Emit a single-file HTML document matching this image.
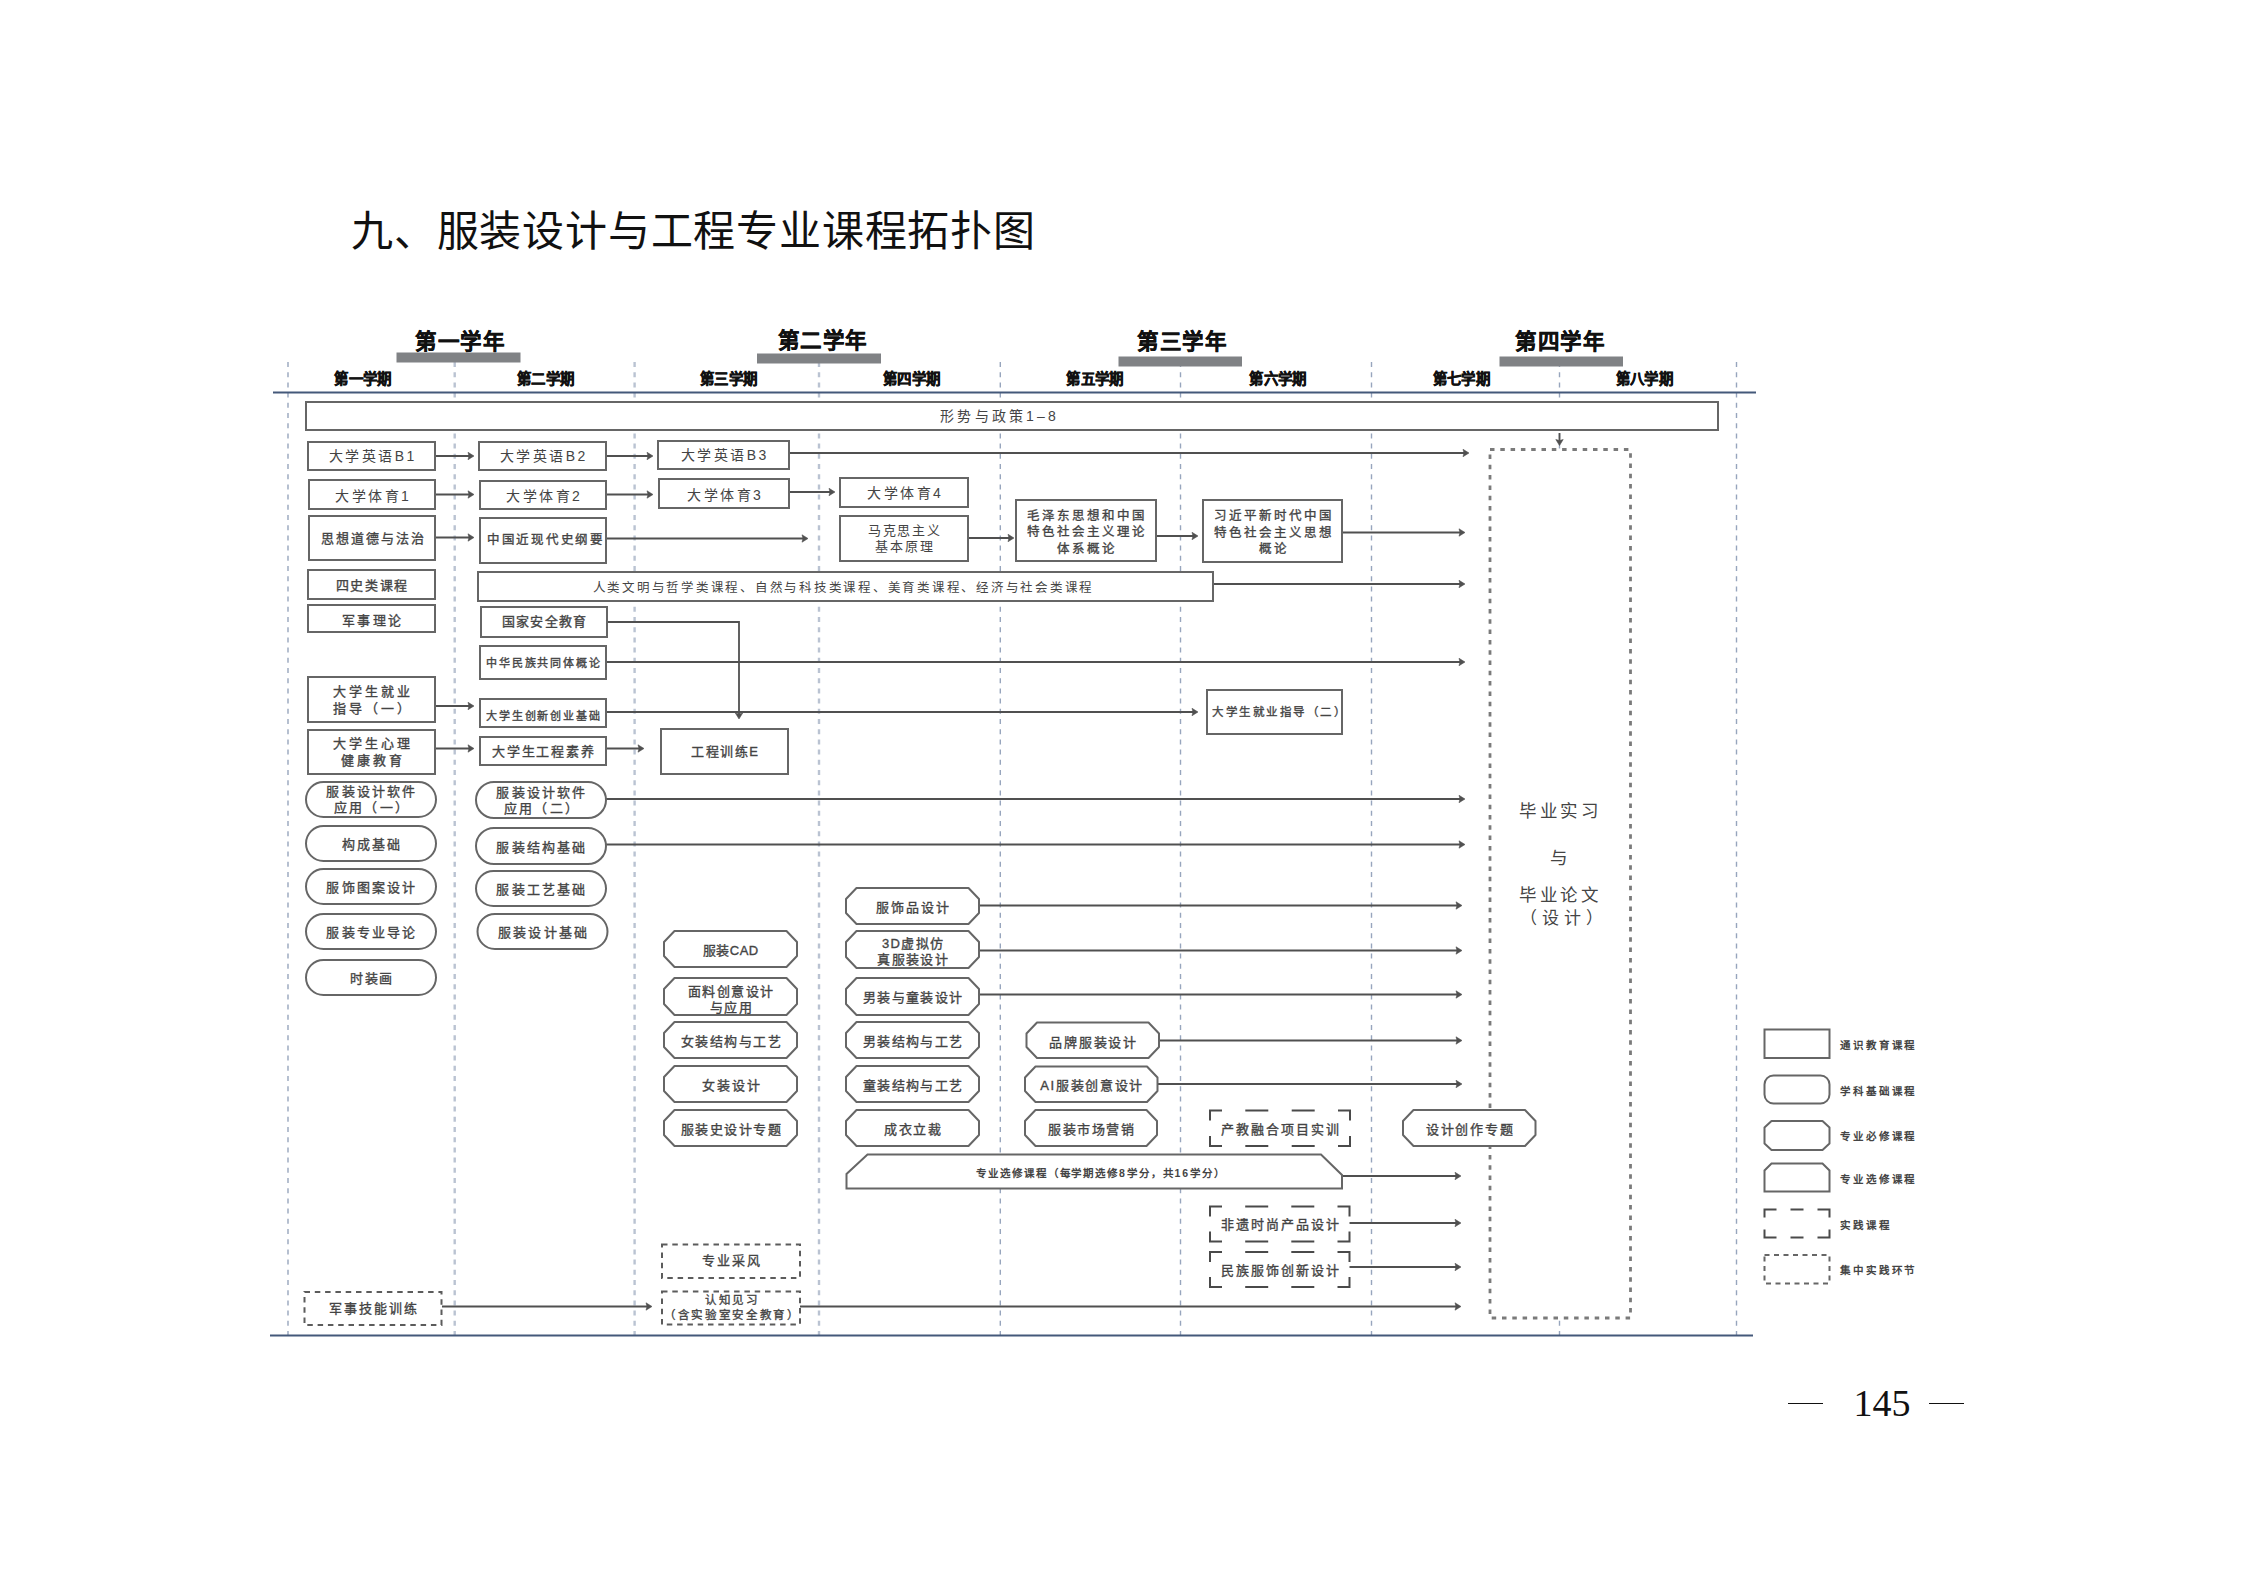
<!DOCTYPE html>
<html lang="zh-CN">
<head>
<meta charset="utf-8">
<title>服装设计与工程专业课程拓扑图</title>
<style>
html,body{margin:0;padding:0;background:#fff;}
body{width:2245px;height:1587px;position:relative;overflow:hidden;font-family:"Liberation Serif",serif;}
.t{position:absolute;display:flex;align-items:center;justify-content:center;text-align:center;white-space:nowrap;box-sizing:border-box;font-family:"Liberation Serif",serif;}
</style>
</head>
<body>
<svg width="2245" height="1587" viewBox="0 0 2245 1587" style="position:absolute;left:0;top:0"><line x1="288" y1="362" x2="288" y2="1340" stroke="#97a5bd" stroke-width="1.4" stroke-dasharray="5 5.2"/>
<line x1="1000.3" y1="362" x2="1000.3" y2="1340" stroke="#97a5bd" stroke-width="1.4" stroke-dasharray="5 5.2"/>
<line x1="1180.5" y1="362" x2="1180.5" y2="1340" stroke="#97a5bd" stroke-width="1.4" stroke-dasharray="5 5.2"/>
<line x1="1371.5" y1="362" x2="1371.5" y2="1340" stroke="#97a5bd" stroke-width="1.4" stroke-dasharray="5 5.2"/>
<line x1="1559.5" y1="362" x2="1559.5" y2="1340" stroke="#97a5bd" stroke-width="1.4" stroke-dasharray="5 5.2"/>
<line x1="1736.5" y1="362" x2="1736.5" y2="1340" stroke="#97a5bd" stroke-width="1.4" stroke-dasharray="5 5.2"/>
<line x1="454.7" y1="362" x2="454.7" y2="1340" stroke="#bac3d2" stroke-width="2.4" stroke-dasharray="5 5.2"/>
<line x1="634.6" y1="362" x2="634.6" y2="1340" stroke="#bac3d2" stroke-width="2.4" stroke-dasharray="5 5.2"/>
<line x1="819" y1="362" x2="819" y2="1340" stroke="#bac3d2" stroke-width="2.4" stroke-dasharray="5 5.2"/>
<line x1="273" y1="392.5" x2="1756" y2="392.5" stroke="#44597a" stroke-width="2"/>
<line x1="270" y1="1335.5" x2="1753" y2="1335.5" stroke="#44597a" stroke-width="2"/>
<rect x="396.5" y="352.5" width="124.0" height="10.0" fill="#808285"/>
<rect x="757" y="353.5" width="124" height="10.0" fill="#808285"/>
<rect x="1118.5" y="356.5" width="123.5" height="10.0" fill="#808285"/>
<rect x="1499.5" y="356.5" width="123.5" height="10.0" fill="#808285"/>
<line x1="435" y1="456" x2="470" y2="456" stroke="#505050" stroke-width="1.8"/>
<polygon points="474,456 468,452.3 469,456 468,459.7" fill="#505050" stroke="#505050" stroke-width="0.6" stroke-linejoin="round"/>
<line x1="606" y1="456" x2="649" y2="456" stroke="#505050" stroke-width="1.8"/>
<polygon points="653,456 647,452.3 648,456 647,459.7" fill="#505050" stroke="#505050" stroke-width="0.6" stroke-linejoin="round"/>
<line x1="789" y1="453" x2="1465" y2="453" stroke="#505050" stroke-width="1.8"/>
<polygon points="1469,453 1463,449.3 1464,453 1463,456.7" fill="#505050" stroke="#505050" stroke-width="0.6" stroke-linejoin="round"/>
<line x1="435" y1="494.5" x2="470" y2="494.5" stroke="#505050" stroke-width="1.8"/>
<polygon points="474,494.5 468,490.8 469,494.5 468,498.2" fill="#505050" stroke="#505050" stroke-width="0.6" stroke-linejoin="round"/>
<line x1="606" y1="494.5" x2="649" y2="494.5" stroke="#505050" stroke-width="1.8"/>
<polygon points="653,494.5 647,490.8 648,494.5 647,498.2" fill="#505050" stroke="#505050" stroke-width="0.6" stroke-linejoin="round"/>
<line x1="789" y1="492" x2="831" y2="492" stroke="#505050" stroke-width="1.8"/>
<polygon points="835,492 829,488.3 830,492 829,495.7" fill="#505050" stroke="#505050" stroke-width="0.6" stroke-linejoin="round"/>
<line x1="435" y1="537.5" x2="470" y2="537.5" stroke="#505050" stroke-width="1.8"/>
<polygon points="474,537.5 468,533.8 469,537.5 468,541.2" fill="#505050" stroke="#505050" stroke-width="0.6" stroke-linejoin="round"/>
<line x1="606" y1="538.5" x2="804" y2="538.5" stroke="#505050" stroke-width="1.8"/>
<polygon points="808,538.5 802,534.8 803,538.5 802,542.2" fill="#505050" stroke="#505050" stroke-width="0.6" stroke-linejoin="round"/>
<line x1="968" y1="538" x2="1010" y2="538" stroke="#505050" stroke-width="1.8"/>
<polygon points="1014,538 1008,534.3 1009,538 1008,541.7" fill="#505050" stroke="#505050" stroke-width="0.6" stroke-linejoin="round"/>
<line x1="1156" y1="536" x2="1194" y2="536" stroke="#505050" stroke-width="1.8"/>
<polygon points="1198,536 1192,532.3 1193,536 1192,539.7" fill="#505050" stroke="#505050" stroke-width="0.6" stroke-linejoin="round"/>
<line x1="1342" y1="532.5" x2="1461" y2="532.5" stroke="#505050" stroke-width="1.8"/>
<polygon points="1465,532.5 1459,528.8 1460,532.5 1459,536.2" fill="#505050" stroke="#505050" stroke-width="0.6" stroke-linejoin="round"/>
<line x1="1213" y1="584" x2="1461" y2="584" stroke="#505050" stroke-width="1.8"/>
<polygon points="1465,584 1459,580.3 1460,584 1459,587.7" fill="#505050" stroke="#505050" stroke-width="0.6" stroke-linejoin="round"/>
<line x1="607" y1="622" x2="739" y2="622" stroke="#505050" stroke-width="1.8"/>
<line x1="739" y1="621" x2="739" y2="715" stroke="#505050" stroke-width="1.8"/>
<polygon points="739,719 735.3,713 739,714 742.7,713" fill="#505050" stroke="#505050" stroke-width="0.6" stroke-linejoin="round"/>
<line x1="606" y1="662" x2="1461" y2="662" stroke="#505050" stroke-width="1.8"/>
<polygon points="1465,662 1459,658.3 1460,662 1459,665.7" fill="#505050" stroke="#505050" stroke-width="0.6" stroke-linejoin="round"/>
<line x1="435" y1="706" x2="470" y2="706" stroke="#505050" stroke-width="1.8"/>
<polygon points="474,706 468,702.3 469,706 468,709.7" fill="#505050" stroke="#505050" stroke-width="0.6" stroke-linejoin="round"/>
<line x1="606" y1="712" x2="1194" y2="712" stroke="#505050" stroke-width="1.8"/>
<polygon points="1198,712 1192,708.3 1193,712 1192,715.7" fill="#505050" stroke="#505050" stroke-width="0.6" stroke-linejoin="round"/>
<line x1="435" y1="748.5" x2="470" y2="748.5" stroke="#505050" stroke-width="1.8"/>
<polygon points="474,748.5 468,744.8 469,748.5 468,752.2" fill="#505050" stroke="#505050" stroke-width="0.6" stroke-linejoin="round"/>
<line x1="606" y1="748.5" x2="640" y2="748.5" stroke="#505050" stroke-width="1.8"/>
<polygon points="644,748.5 638,744.8 639,748.5 638,752.2" fill="#505050" stroke="#505050" stroke-width="0.6" stroke-linejoin="round"/>
<line x1="606" y1="799" x2="1461" y2="799" stroke="#505050" stroke-width="1.8"/>
<polygon points="1465,799 1459,795.3 1460,799 1459,802.7" fill="#505050" stroke="#505050" stroke-width="0.6" stroke-linejoin="round"/>
<line x1="606" y1="844.5" x2="1461" y2="844.5" stroke="#505050" stroke-width="1.8"/>
<polygon points="1465,844.5 1459,840.8 1460,844.5 1459,848.2" fill="#505050" stroke="#505050" stroke-width="0.6" stroke-linejoin="round"/>
<line x1="979" y1="905.5" x2="1458" y2="905.5" stroke="#505050" stroke-width="1.8"/>
<polygon points="1462,905.5 1456,901.8 1457,905.5 1456,909.2" fill="#505050" stroke="#505050" stroke-width="0.6" stroke-linejoin="round"/>
<line x1="979" y1="950.5" x2="1458" y2="950.5" stroke="#505050" stroke-width="1.8"/>
<polygon points="1462,950.5 1456,946.8 1457,950.5 1456,954.2" fill="#505050" stroke="#505050" stroke-width="0.6" stroke-linejoin="round"/>
<line x1="979" y1="994.5" x2="1458" y2="994.5" stroke="#505050" stroke-width="1.8"/>
<polygon points="1462,994.5 1456,990.8 1457,994.5 1456,998.2" fill="#505050" stroke="#505050" stroke-width="0.6" stroke-linejoin="round"/>
<line x1="1158" y1="1040.5" x2="1458" y2="1040.5" stroke="#505050" stroke-width="1.8"/>
<polygon points="1462,1040.5 1456,1036.8 1457,1040.5 1456,1044.2" fill="#505050" stroke="#505050" stroke-width="0.6" stroke-linejoin="round"/>
<line x1="1157" y1="1084" x2="1458" y2="1084" stroke="#505050" stroke-width="1.8"/>
<polygon points="1462,1084 1456,1080.3 1457,1084 1456,1087.7" fill="#505050" stroke="#505050" stroke-width="0.6" stroke-linejoin="round"/>
<line x1="1342" y1="1176" x2="1457" y2="1176" stroke="#505050" stroke-width="1.8"/>
<polygon points="1461,1176 1455,1172.3 1456,1176 1455,1179.7" fill="#505050" stroke="#505050" stroke-width="0.6" stroke-linejoin="round"/>
<line x1="1349" y1="1223" x2="1457" y2="1223" stroke="#505050" stroke-width="1.8"/>
<polygon points="1461,1223 1455,1219.3 1456,1223 1455,1226.7" fill="#505050" stroke="#505050" stroke-width="0.6" stroke-linejoin="round"/>
<line x1="1349" y1="1267" x2="1457" y2="1267" stroke="#505050" stroke-width="1.8"/>
<polygon points="1461,1267 1455,1263.3 1456,1267 1455,1270.7" fill="#505050" stroke="#505050" stroke-width="0.6" stroke-linejoin="round"/>
<line x1="442" y1="1306.5" x2="648" y2="1306.5" stroke="#505050" stroke-width="1.8"/>
<polygon points="652,1306.5 646,1302.8 647,1306.5 646,1310.2" fill="#505050" stroke="#505050" stroke-width="0.6" stroke-linejoin="round"/>
<line x1="800" y1="1306.5" x2="1457" y2="1306.5" stroke="#505050" stroke-width="1.8"/>
<polygon points="1461,1306.5 1455,1302.8 1456,1306.5 1455,1310.2" fill="#505050" stroke="#505050" stroke-width="0.6" stroke-linejoin="round"/>
<line x1="1559.5" y1="433" x2="1559.5" y2="441.5" stroke="#505050" stroke-width="1.8"/>
<polygon points="1559.5,445.5 1555.8,439.5 1559.5,440.5 1563.2,439.5" fill="#505050" stroke="#505050" stroke-width="0.6" stroke-linejoin="round"/>
<rect x="1490" y="449.5" width="140.5" height="868.5" fill="#fff" stroke="#7a7a7a" stroke-width="2.8" stroke-dasharray="4.5 5.8"/>
<rect x="306" y="402" width="1412" height="28" fill="#fff" stroke="#666" stroke-width="2"/>
<rect x="308" y="442" width="127" height="28" fill="#fff" stroke="#666" stroke-width="2"/>
<rect x="479" y="442" width="127" height="28" fill="#fff" stroke="#666" stroke-width="2"/>
<rect x="658" y="441" width="131" height="28" fill="#fff" stroke="#666" stroke-width="2"/>
<rect x="309" y="480" width="126" height="29" fill="#fff" stroke="#666" stroke-width="2"/>
<rect x="480" y="481" width="126" height="28" fill="#fff" stroke="#666" stroke-width="2"/>
<rect x="659" y="479" width="130" height="29" fill="#fff" stroke="#666" stroke-width="2"/>
<rect x="840" y="478" width="128" height="29" fill="#fff" stroke="#666" stroke-width="2"/>
<rect x="309" y="516" width="126" height="44" fill="#fff" stroke="#666" stroke-width="2"/>
<rect x="480" y="518" width="126" height="45" fill="#fff" stroke="#666" stroke-width="2"/>
<rect x="840" y="516" width="128" height="45" fill="#fff" stroke="#666" stroke-width="2"/>
<rect x="1016" y="500" width="140" height="61" fill="#fff" stroke="#666" stroke-width="2"/>
<rect x="1203" y="500" width="139" height="62" fill="#fff" stroke="#666" stroke-width="2"/>
<rect x="308" y="570" width="127" height="29" fill="#fff" stroke="#666" stroke-width="2"/>
<rect x="478" y="572" width="735" height="29" fill="#fff" stroke="#666" stroke-width="2"/>
<rect x="308" y="605" width="127" height="27" fill="#fff" stroke="#666" stroke-width="2"/>
<rect x="481" y="607" width="126" height="30" fill="#fff" stroke="#666" stroke-width="2"/>
<rect x="480" y="646" width="126" height="33" fill="#fff" stroke="#666" stroke-width="2"/>
<rect x="308" y="677" width="127" height="45" fill="#fff" stroke="#666" stroke-width="2"/>
<rect x="480" y="699" width="126" height="28" fill="#fff" stroke="#666" stroke-width="2"/>
<rect x="1207" y="690" width="135" height="44" fill="#fff" stroke="#666" stroke-width="2"/>
<rect x="308" y="730" width="127" height="44" fill="#fff" stroke="#666" stroke-width="2"/>
<rect x="480" y="737" width="126" height="28" fill="#fff" stroke="#666" stroke-width="2"/>
<rect x="661" y="729" width="127" height="45" fill="#fff" stroke="#666" stroke-width="2"/>
<rect x="306" y="782" width="130" height="35" rx="17.5" ry="17.5" fill="#fff" stroke="#666" stroke-width="2"/>
<rect x="476" y="782" width="130" height="36" rx="18.0" ry="18.0" fill="#fff" stroke="#666" stroke-width="2"/>
<rect x="306" y="826" width="130" height="35" rx="17.5" ry="17.5" fill="#fff" stroke="#666" stroke-width="2"/>
<rect x="476" y="828" width="130" height="36" rx="18.0" ry="18.0" fill="#fff" stroke="#666" stroke-width="2"/>
<rect x="306" y="869" width="130" height="35" rx="17.5" ry="17.5" fill="#fff" stroke="#666" stroke-width="2"/>
<rect x="476" y="871" width="130" height="35" rx="17.5" ry="17.5" fill="#fff" stroke="#666" stroke-width="2"/>
<rect x="306" y="914" width="130" height="35" rx="17.5" ry="17.5" fill="#fff" stroke="#666" stroke-width="2"/>
<rect x="477.5" y="914" width="130.0" height="35" rx="17.5" ry="17.5" fill="#fff" stroke="#666" stroke-width="2"/>
<rect x="306" y="960" width="130" height="35" rx="17.5" ry="17.5" fill="#fff" stroke="#666" stroke-width="2"/>
<polygon points="674.5,931.0 786.5,931.0 797.0,942.0 797.0,956.0 786.5,967.0 674.5,967.0 664.0,956.0 664.0,942.0" fill="#fff" stroke="#666" stroke-width="2" stroke-linejoin="round"/>
<polygon points="674.5,978.0 786.5,978.0 797.0,989.0 797.0,1004.0 786.5,1015.0 674.5,1015.0 664.0,1004.0 664.0,989.0" fill="#fff" stroke="#666" stroke-width="2" stroke-linejoin="round"/>
<polygon points="674.5,1022.0 786.5,1022.0 797.0,1033.0 797.0,1047.0 786.5,1058.0 674.5,1058.0 664.0,1047.0 664.0,1033.0" fill="#fff" stroke="#666" stroke-width="2" stroke-linejoin="round"/>
<polygon points="674.5,1066.0 786.5,1066.0 797.0,1077.0 797.0,1091.0 786.5,1102.0 674.5,1102.0 664.0,1091.0 664.0,1077.0" fill="#fff" stroke="#666" stroke-width="2" stroke-linejoin="round"/>
<polygon points="674.5,1110.0 786.5,1110.0 797.0,1121.0 797.0,1135.0 786.5,1146.0 674.5,1146.0 664.0,1135.0 664.0,1121.0" fill="#fff" stroke="#666" stroke-width="2" stroke-linejoin="round"/>
<polygon points="856.5,888.0 968.5,888.0 979.0,899.0 979.0,913.0 968.5,924.0 856.5,924.0 846.0,913.0 846.0,899.0" fill="#fff" stroke="#666" stroke-width="2" stroke-linejoin="round"/>
<polygon points="856.5,931.0 968.5,931.0 979.0,942.0 979.0,957.0 968.5,968.0 856.5,968.0 846.0,957.0 846.0,942.0" fill="#fff" stroke="#666" stroke-width="2" stroke-linejoin="round"/>
<polygon points="856.5,978.0 968.5,978.0 979.0,989.0 979.0,1004.0 968.5,1015.0 856.5,1015.0 846.0,1004.0 846.0,989.0" fill="#fff" stroke="#666" stroke-width="2" stroke-linejoin="round"/>
<polygon points="856.5,1022.0 968.5,1022.0 979.0,1033.0 979.0,1047.0 968.5,1058.0 856.5,1058.0 846.0,1047.0 846.0,1033.0" fill="#fff" stroke="#666" stroke-width="2" stroke-linejoin="round"/>
<polygon points="856.5,1066.0 968.5,1066.0 979.0,1077.0 979.0,1091.0 968.5,1102.0 856.5,1102.0 846.0,1091.0 846.0,1077.0" fill="#fff" stroke="#666" stroke-width="2" stroke-linejoin="round"/>
<polygon points="856.5,1110.0 968.5,1110.0 979.0,1121.0 979.0,1135.0 968.5,1146.0 856.5,1146.0 846.0,1135.0 846.0,1121.0" fill="#fff" stroke="#666" stroke-width="2" stroke-linejoin="round"/>
<polygon points="1037.0,1022.5 1148.5,1022.5 1159.0,1033.5 1159.0,1047.0 1148.5,1058.0 1037.0,1058.0 1026.5,1047.0 1026.5,1033.5" fill="#fff" stroke="#666" stroke-width="2" stroke-linejoin="round"/>
<polygon points="1035.5,1066.5 1147.0,1066.5 1157.5,1077.5 1157.5,1091.0 1147.0,1102.0 1035.5,1102.0 1025.0,1091.0 1025.0,1077.5" fill="#fff" stroke="#666" stroke-width="2" stroke-linejoin="round"/>
<polygon points="1035.5,1110.0 1146.5,1110.0 1157.0,1121.0 1157.0,1135.0 1146.5,1146.0 1035.5,1146.0 1025.0,1135.0 1025.0,1121.0" fill="#fff" stroke="#666" stroke-width="2" stroke-linejoin="round"/>
<polygon points="1413.5,1110.0 1525.0,1110.0 1535.5,1121.0 1535.5,1135.0 1525.0,1146.0 1413.5,1146.0 1403.0,1135.0 1403.0,1121.0" fill="#fff" stroke="#666" stroke-width="2" stroke-linejoin="round"/>
<polygon points="867.5,1154.5 1321.0,1154.5 1342.0,1175.0 1342.0,1188.5 846.5,1188.5 846.5,1174.0" fill="#fff" stroke="#666" stroke-width="2" stroke-linejoin="miter"/>
<rect x="1210" y="1110.5" width="140" height="35.5" fill="#fff" stroke="none"/>
<path d="M1210,1120.5 V1110.5 H1222 M1338,1110.5 H1350 V1120.5 M1210,1136 V1146 H1222 M1338,1146 H1350 V1136 M1245.3,1110.5 H1268.3 M1245.3,1146 H1268.3 M1291.7,1110.5 H1314.7 M1291.7,1146 H1314.7" fill="none" stroke="#4a4a4a" stroke-width="2"/>
<rect x="1210" y="1206.5" width="139.5" height="35.0" fill="#fff" stroke="none"/>
<path d="M1210,1216.5 V1206.5 H1222 M1337.5,1206.5 H1349.5 V1216.5 M1210,1231.5 V1241.5 H1222 M1337.5,1241.5 H1349.5 V1231.5 M1245.2,1206.5 H1268.2 M1245.2,1241.5 H1268.2 M1291.3,1206.5 H1314.3 M1291.3,1241.5 H1314.3" fill="none" stroke="#4a4a4a" stroke-width="2"/>
<rect x="1210" y="1252" width="139.5" height="35" fill="#fff" stroke="none"/>
<path d="M1210,1262 V1252 H1222 M1337.5,1252 H1349.5 V1262 M1210,1277 V1287 H1222 M1337.5,1287 H1349.5 V1277 M1245.2,1252 H1268.2 M1245.2,1287 H1268.2 M1291.3,1252 H1314.3 M1291.3,1287 H1314.3" fill="none" stroke="#4a4a4a" stroke-width="2"/>
<rect x="304.5" y="1292" width="137.0" height="33" fill="#fff" stroke="#5c5c5c" stroke-width="2" stroke-dasharray="5.5 4.8"/>
<rect x="662" y="1244.5" width="138" height="33.5" fill="#fff" stroke="#5c5c5c" stroke-width="2" stroke-dasharray="5.5 4.8"/>
<rect x="662" y="1291.5" width="138" height="33.0" fill="#fff" stroke="#5c5c5c" stroke-width="2" stroke-dasharray="5.5 4.8"/>
<rect x="1764.5" y="1029.5" width="65.0" height="28.5" fill="#fff" stroke="#666" stroke-width="2"/>
<rect x="1764.5" y="1075.5" width="65.0" height="28.0" rx="9" ry="9" fill="#fff" stroke="#666" stroke-width="2"/>
<polygon points="1771.5,1121.0 1822.5,1121.0 1829.5,1127.5 1829.5,1143.5 1822.5,1150.0 1771.5,1150.0 1764.5,1143.5 1764.5,1127.5" fill="#fff" stroke="#666" stroke-width="2" stroke-linejoin="round"/>
<polygon points="1771.5,1163.5 1822.5,1163.5 1829.5,1170.5 1829.5,1191.5 1764.5,1191.5 1764.5,1170.5" fill="#fff" stroke="#666" stroke-width="2" stroke-linejoin="miter"/>
<path d="M1764.5,1217.5 V1209.5 H1776.5 M1790.5,1209.5 H1803.5 M1817.5,1209.5 H1829.5 V1217.5 M1764.5,1229.5 V1237.5 H1776.5 M1790.5,1237.5 H1803.5 M1817.5,1237.5 H1829.5 V1229.5" fill="none" stroke="#4a4a4a" stroke-width="2"/>
<rect x="1764.5" y="1255" width="65.0" height="28.5" fill="#fff" stroke="#666" stroke-width="2" stroke-dasharray="5 4.5"/></svg>
<div class="t" style="left:292.0px;top:402.0px;width:1412.0px;height:28.0px;font-size:14px;letter-spacing:3.2px;padding-left:3.2px;line-height:17px;font-weight:500;color:#444;font-family:'Liberation Sans', sans-serif;-webkit-text-stroke:0px #444;">形势与政策1–8</div>
<div class="t" style="left:308.0px;top:442.0px;width:127.0px;height:28.0px;font-size:14px;letter-spacing:2.5px;padding-left:2.5px;line-height:17px;font-weight:500;color:#444;font-family:'Liberation Sans', sans-serif;-webkit-text-stroke:0px #444;">大学英语B1</div>
<div class="t" style="left:479.0px;top:442.0px;width:127.0px;height:28.0px;font-size:14px;letter-spacing:2.5px;padding-left:2.5px;line-height:17px;font-weight:500;color:#444;font-family:'Liberation Sans', sans-serif;-webkit-text-stroke:0px #444;">大学英语B2</div>
<div class="t" style="left:658.0px;top:441.0px;width:131.0px;height:28.0px;font-size:14px;letter-spacing:2.5px;padding-left:2.5px;line-height:17px;font-weight:500;color:#444;font-family:'Liberation Sans', sans-serif;-webkit-text-stroke:0px #444;">大学英语B3</div>
<div class="t" style="left:309.0px;top:481.5px;width:126.0px;height:29.0px;font-size:14px;letter-spacing:2.5px;padding-left:2.5px;line-height:17px;font-weight:500;color:#444;font-family:'Liberation Sans', sans-serif;-webkit-text-stroke:0px #444;">大学体育1</div>
<div class="t" style="left:480.0px;top:482.5px;width:126.0px;height:28.0px;font-size:14px;letter-spacing:2.5px;padding-left:2.5px;line-height:17px;font-weight:500;color:#444;font-family:'Liberation Sans', sans-serif;-webkit-text-stroke:0px #444;">大学体育2</div>
<div class="t" style="left:659.0px;top:480.5px;width:130.0px;height:29.0px;font-size:14px;letter-spacing:2.5px;padding-left:2.5px;line-height:17px;font-weight:500;color:#444;font-family:'Liberation Sans', sans-serif;-webkit-text-stroke:0px #444;">大学体育3</div>
<div class="t" style="left:840.0px;top:479.3px;width:128.0px;height:29.0px;font-size:14px;letter-spacing:2.5px;padding-left:2.5px;line-height:17px;font-weight:500;color:#444;font-family:'Liberation Sans', sans-serif;-webkit-text-stroke:0px #444;">大学体育4</div>
<div class="t" style="left:309.0px;top:517.0px;width:126.0px;height:44.0px;font-size:13px;letter-spacing:2.0px;padding-left:2.0px;line-height:16px;font-weight:500;color:#444;font-family:'Liberation Sans', sans-serif;-webkit-text-stroke:0.35px #444;">思想道德与法治</div>
<div class="t" style="left:482.0px;top:518.0px;width:126.0px;height:45.0px;font-size:12.5px;letter-spacing:1.7px;padding-left:1.7px;line-height:15.5px;font-weight:500;color:#444;font-family:'Liberation Sans', sans-serif;-webkit-text-stroke:0.35px #444;">中国近现代史纲要</div>
<div class="t" style="left:840.0px;top:516.0px;width:128.0px;height:45.0px;font-size:13px;letter-spacing:1.8px;padding-left:1.8px;line-height:16px;font-weight:500;color:#444;font-family:'Liberation Sans', sans-serif;-webkit-text-stroke:0px #444;">马克思主义<br>基本原理</div>
<div class="t" style="left:1016.0px;top:502.0px;width:140.0px;height:61.0px;font-size:12.5px;letter-spacing:2px;padding-left:2px;line-height:16.6px;font-weight:500;color:#444;font-family:'Liberation Sans', sans-serif;-webkit-text-stroke:0.35px #444;">毛泽东思想和中国<br>特色社会主义理论<br>体系概论</div>
<div class="t" style="left:1203.0px;top:502.0px;width:139.0px;height:62.0px;font-size:12.5px;letter-spacing:2px;padding-left:2px;line-height:16.6px;font-weight:500;color:#444;font-family:'Liberation Sans', sans-serif;-webkit-text-stroke:0.35px #444;">习近平新时代中国<br>特色社会主义思想<br>概论</div>
<div class="t" style="left:308.0px;top:571.0px;width:127.0px;height:29.0px;font-size:13px;letter-spacing:1.6px;padding-left:1.6px;line-height:16px;font-weight:500;color:#444;font-family:'Liberation Sans', sans-serif;-webkit-text-stroke:0.35px #444;">四史类课程</div>
<div class="t" style="left:475.0px;top:574.5px;width:735.0px;height:29.0px;font-size:12.5px;letter-spacing:1.75px;padding-left:1.75px;line-height:15.5px;font-weight:500;color:#444;font-family:'Liberation Sans', sans-serif;-webkit-text-stroke:0px #444;">人类文明与哲学类课程、自然与科技类课程、美育类课程、经济与社会类课程</div>
<div class="t" style="left:308.0px;top:607.5px;width:127.0px;height:27.0px;font-size:13px;letter-spacing:2.3px;padding-left:2.3px;line-height:16px;font-weight:500;color:#444;font-family:'Liberation Sans', sans-serif;-webkit-text-stroke:0.35px #444;">军事理论</div>
<div class="t" style="left:481.0px;top:607.0px;width:126.0px;height:30.0px;font-size:13px;letter-spacing:1.3px;padding-left:1.3px;line-height:16px;font-weight:500;color:#444;font-family:'Liberation Sans', sans-serif;-webkit-text-stroke:0.35px #444;">国家安全教育</div>
<div class="t" style="left:480.0px;top:646.0px;width:126.0px;height:33.0px;font-size:11px;letter-spacing:1.9px;padding-left:1.9px;line-height:14px;font-weight:500;color:#444;font-family:'Liberation Sans', sans-serif;-webkit-text-stroke:0.35px #444;">中华民族共同体概论</div>
<div class="t" style="left:308.0px;top:677.0px;width:127.0px;height:45.0px;font-size:13px;letter-spacing:2.8px;padding-left:2.8px;line-height:17px;font-weight:500;color:#444;font-family:'Liberation Sans', sans-serif;-webkit-text-stroke:0.35px #444;">大学生就业<br>指导（一）</div>
<div class="t" style="left:480.0px;top:701.5px;width:126.0px;height:28.0px;font-size:11px;letter-spacing:1.95px;padding-left:1.95px;line-height:14px;font-weight:500;color:#444;font-family:'Liberation Sans', sans-serif;-webkit-text-stroke:0.35px #444;">大学生创新创业基础</div>
<div class="t" style="left:1211.0px;top:690.0px;width:135.0px;height:44.0px;font-size:11.5px;letter-spacing:2.5px;padding-left:2.5px;line-height:14.5px;font-weight:500;color:#444;font-family:'Liberation Sans', sans-serif;-webkit-text-stroke:0.35px #444;">大学生就业指导（二）</div>
<div class="t" style="left:308.0px;top:730.0px;width:127.0px;height:44.0px;font-size:13px;letter-spacing:2.8px;padding-left:2.8px;line-height:17px;font-weight:500;color:#444;font-family:'Liberation Sans', sans-serif;-webkit-text-stroke:0.35px #444;">大学生心理<br>健康教育</div>
<div class="t" style="left:480.0px;top:738.0px;width:126.0px;height:28.0px;font-size:13px;letter-spacing:1.9px;padding-left:1.9px;line-height:16px;font-weight:500;color:#444;font-family:'Liberation Sans', sans-serif;-webkit-text-stroke:0.35px #444;">大学生工程素养</div>
<div class="t" style="left:661.0px;top:729.0px;width:127.0px;height:45.0px;font-size:13px;letter-spacing:1.5px;padding-left:1.5px;line-height:16px;font-weight:500;color:#444;font-family:'Liberation Sans', sans-serif;-webkit-text-stroke:0.35px #444;">工程训练E</div>
<div class="t" style="left:306.0px;top:782.5px;width:130.0px;height:35.0px;font-size:13px;letter-spacing:2.2px;padding-left:2.2px;line-height:16px;font-weight:500;color:#444;font-family:'Liberation Sans', sans-serif;-webkit-text-stroke:0.35px #444;">服装设计软件<br>应用（一）</div>
<div class="t" style="left:476.0px;top:782.5px;width:130.0px;height:36.0px;font-size:13px;letter-spacing:2.2px;padding-left:2.2px;line-height:16px;font-weight:500;color:#444;font-family:'Liberation Sans', sans-serif;-webkit-text-stroke:0.35px #444;">服装设计软件<br>应用（二）</div>
<div class="t" style="left:306.0px;top:827.5px;width:130.0px;height:35.0px;font-size:13px;letter-spacing:2.2px;padding-left:2.2px;line-height:16px;font-weight:500;color:#444;font-family:'Liberation Sans', sans-serif;-webkit-text-stroke:0.35px #444;">构成基础</div>
<div class="t" style="left:476.0px;top:829.5px;width:130.0px;height:36.0px;font-size:13px;letter-spacing:2.2px;padding-left:2.2px;line-height:16px;font-weight:500;color:#444;font-family:'Liberation Sans', sans-serif;-webkit-text-stroke:0.35px #444;">服装结构基础</div>
<div class="t" style="left:306.0px;top:870.5px;width:130.0px;height:35.0px;font-size:13px;letter-spacing:2.2px;padding-left:2.2px;line-height:16px;font-weight:500;color:#444;font-family:'Liberation Sans', sans-serif;-webkit-text-stroke:0.35px #444;">服饰图案设计</div>
<div class="t" style="left:476.0px;top:872.5px;width:130.0px;height:35.0px;font-size:13px;letter-spacing:2.2px;padding-left:2.2px;line-height:16px;font-weight:500;color:#444;font-family:'Liberation Sans', sans-serif;-webkit-text-stroke:0.35px #444;">服装工艺基础</div>
<div class="t" style="left:306.0px;top:915.5px;width:130.0px;height:35.0px;font-size:13px;letter-spacing:2.2px;padding-left:2.2px;line-height:16px;font-weight:500;color:#444;font-family:'Liberation Sans', sans-serif;-webkit-text-stroke:0.35px #444;">服装专业导论</div>
<div class="t" style="left:477.5px;top:915.5px;width:130.0px;height:35.0px;font-size:13px;letter-spacing:2.2px;padding-left:2.2px;line-height:16px;font-weight:500;color:#444;font-family:'Liberation Sans', sans-serif;-webkit-text-stroke:0.35px #444;">服装设计基础</div>
<div class="t" style="left:306.0px;top:961.5px;width:130.0px;height:35.0px;font-size:13px;letter-spacing:1.5px;padding-left:1.5px;line-height:16px;font-weight:500;color:#444;font-family:'Liberation Sans', sans-serif;-webkit-text-stroke:0.35px #444;">时装画</div>
<div class="t" style="left:664.0px;top:932.8px;width:133.0px;height:36.0px;font-size:13px;letter-spacing:0.5px;padding-left:0.5px;line-height:16px;font-weight:500;color:#444;font-family:'Liberation Sans', sans-serif;-webkit-text-stroke:0.35px #444;">服装CAD</div>
<div class="t" style="left:664.0px;top:981.0px;width:133.0px;height:37.0px;font-size:13px;letter-spacing:1.5px;padding-left:1.5px;line-height:16px;font-weight:500;color:#444;font-family:'Liberation Sans', sans-serif;-webkit-text-stroke:0.35px #444;">面料创意设计<br>与应用</div>
<div class="t" style="left:664.0px;top:1023.8px;width:133.0px;height:36.0px;font-size:13px;letter-spacing:1.5px;padding-left:1.5px;line-height:16px;font-weight:500;color:#444;font-family:'Liberation Sans', sans-serif;-webkit-text-stroke:0.35px #444;">女装结构与工艺</div>
<div class="t" style="left:664.0px;top:1067.8px;width:133.0px;height:36.0px;font-size:13px;letter-spacing:2px;padding-left:2px;line-height:16px;font-weight:500;color:#444;font-family:'Liberation Sans', sans-serif;-webkit-text-stroke:0.35px #444;">女装设计</div>
<div class="t" style="left:664.0px;top:1111.8px;width:133.0px;height:36.0px;font-size:13px;letter-spacing:1.5px;padding-left:1.5px;line-height:16px;font-weight:500;color:#444;font-family:'Liberation Sans', sans-serif;-webkit-text-stroke:0.35px #444;">服装史设计专题</div>
<div class="t" style="left:846.0px;top:889.8px;width:133.0px;height:36.0px;font-size:13px;letter-spacing:1.8px;padding-left:1.8px;line-height:16px;font-weight:500;color:#444;font-family:'Liberation Sans', sans-serif;-webkit-text-stroke:0.35px #444;">服饰品设计</div>
<div class="t" style="left:846.0px;top:933.5px;width:133.0px;height:37.0px;font-size:13px;letter-spacing:1.3px;padding-left:1.3px;line-height:16px;font-weight:500;color:#444;font-family:'Liberation Sans', sans-serif;-webkit-text-stroke:0.35px #444;">3D虚拟仿<br>真服装设计</div>
<div class="t" style="left:846.0px;top:979.8px;width:133.0px;height:37.0px;font-size:13px;letter-spacing:1.4px;padding-left:1.4px;line-height:16px;font-weight:500;color:#444;font-family:'Liberation Sans', sans-serif;-webkit-text-stroke:0.35px #444;">男装与童装设计</div>
<div class="t" style="left:846.0px;top:1023.8px;width:133.0px;height:36.0px;font-size:13px;letter-spacing:1.4px;padding-left:1.4px;line-height:16px;font-weight:500;color:#444;font-family:'Liberation Sans', sans-serif;-webkit-text-stroke:0.35px #444;">男装结构与工艺</div>
<div class="t" style="left:846.0px;top:1067.8px;width:133.0px;height:36.0px;font-size:13px;letter-spacing:1.4px;padding-left:1.4px;line-height:16px;font-weight:500;color:#444;font-family:'Liberation Sans', sans-serif;-webkit-text-stroke:0.35px #444;">童装结构与工艺</div>
<div class="t" style="left:846.0px;top:1111.8px;width:133.0px;height:36.0px;font-size:13px;letter-spacing:1.8px;padding-left:1.8px;line-height:16px;font-weight:500;color:#444;font-family:'Liberation Sans', sans-serif;-webkit-text-stroke:0.35px #444;">成衣立裁</div>
<div class="t" style="left:1026.5px;top:1025.5px;width:132.5px;height:35.5px;font-size:13px;letter-spacing:1.8px;padding-left:1.8px;line-height:16px;font-weight:500;color:#444;font-family:'Liberation Sans', sans-serif;-webkit-text-stroke:0.35px #444;">品牌服装设计</div>
<div class="t" style="left:1025.0px;top:1068.5px;width:132.5px;height:35.5px;font-size:13px;letter-spacing:1.7px;padding-left:1.7px;line-height:16px;font-weight:500;color:#444;font-family:'Liberation Sans', sans-serif;-webkit-text-stroke:0.35px #444;">AI服装创意设计</div>
<div class="t" style="left:1025.0px;top:1111.8px;width:132.0px;height:36.0px;font-size:13px;letter-spacing:1.5px;padding-left:1.5px;line-height:16px;font-weight:500;color:#444;font-family:'Liberation Sans', sans-serif;-webkit-text-stroke:0.35px #444;">服装市场营销</div>
<div class="t" style="left:1403.0px;top:1112.3px;width:132.5px;height:36.0px;font-size:13px;letter-spacing:1.8px;padding-left:1.8px;line-height:16px;font-weight:500;color:#444;font-family:'Liberation Sans', sans-serif;-webkit-text-stroke:0.35px #444;">设计创作专题</div>
<div class="t" style="left:852.0px;top:1157.0px;width:496.0px;height:34.0px;font-size:10.5px;letter-spacing:1.9px;padding-left:1.9px;line-height:13.5px;font-weight:bold;color:#444;font-family:'Liberation Sans', sans-serif;-webkit-text-stroke:0px #444;">专业选修课程（每学期选修8学分，共16学分）</div>
<div class="t" style="left:1210.0px;top:1112.5px;width:140.0px;height:35.5px;font-size:13px;letter-spacing:2.0px;padding-left:2.0px;line-height:16px;font-weight:500;color:#444;font-family:'Liberation Sans', sans-serif;-webkit-text-stroke:0.35px #444;">产教融合项目实训</div>
<div class="t" style="left:1210.0px;top:1207.5px;width:139.5px;height:35.0px;font-size:13px;letter-spacing:2.0px;padding-left:2.0px;line-height:16px;font-weight:500;color:#444;font-family:'Liberation Sans', sans-serif;-webkit-text-stroke:0.35px #444;">非遗时尚产品设计</div>
<div class="t" style="left:1210.0px;top:1253.5px;width:139.5px;height:35.0px;font-size:13px;letter-spacing:2.0px;padding-left:2.0px;line-height:16px;font-weight:500;color:#444;font-family:'Liberation Sans', sans-serif;-webkit-text-stroke:0.35px #444;">民族服饰创新设计</div>
<div class="t" style="left:304.5px;top:1292.0px;width:137.0px;height:33.0px;font-size:13px;letter-spacing:2.0px;padding-left:2.0px;line-height:16px;font-weight:500;color:#444;font-family:'Liberation Sans', sans-serif;-webkit-text-stroke:0.35px #444;">军事技能训练</div>
<div class="t" style="left:662.0px;top:1244.5px;width:138.0px;height:33.5px;font-size:13px;letter-spacing:2px;padding-left:2px;line-height:16px;font-weight:500;color:#444;font-family:'Liberation Sans', sans-serif;-webkit-text-stroke:0.35px #444;">专业采风</div>
<div class="t" style="left:662.0px;top:1291.5px;width:138.0px;height:33.0px;font-size:11.5px;letter-spacing:2.7px;padding-left:2.7px;line-height:15px;font-weight:500;color:#444;font-family:'Liberation Sans', sans-serif;-webkit-text-stroke:0.35px #444;">认知见习<br>（含实验室安全教育）</div>
<div class="t" style="left:1488.5px;top:800px;width:140px;height:22px;font-size:17.5px;letter-spacing:3.8px;padding-left:3.8px;line-height:22px;color:#444">毕业实习</div>
<div class="t" style="left:1488.5px;top:847px;width:140px;height:22px;font-size:17.5px;letter-spacing:3.8px;padding-left:3.8px;line-height:22px;color:#444">与</div>
<div class="t" style="left:1488.5px;top:884px;width:140px;height:22px;font-size:17.5px;letter-spacing:3.8px;padding-left:3.8px;line-height:22px;color:#444">毕业论文</div>
<div class="t" style="left:1491px;top:908px;width:140px;height:22px;font-size:17px;letter-spacing:5px;padding-left:5px;line-height:22px;color:#444">（设计）</div>
<div class="t" style="left:1840px;top:1037.5px;height:16px;font-size:10.5px;letter-spacing:2.9px;line-height:16px;font-weight:bold;color:#444;justify-content:flex-start">通识教育课程</div>
<div class="t" style="left:1840px;top:1083.5px;height:16px;font-size:10.5px;letter-spacing:2.9px;line-height:16px;font-weight:bold;color:#444;justify-content:flex-start">学科基础课程</div>
<div class="t" style="left:1840px;top:1129.0px;height:16px;font-size:10.5px;letter-spacing:2.9px;line-height:16px;font-weight:bold;color:#444;justify-content:flex-start">专业必修课程</div>
<div class="t" style="left:1840px;top:1171.5px;height:16px;font-size:10.5px;letter-spacing:2.9px;line-height:16px;font-weight:bold;color:#444;justify-content:flex-start">专业选修课程</div>
<div class="t" style="left:1840px;top:1217.5px;height:16px;font-size:10.5px;letter-spacing:2.9px;line-height:16px;font-weight:bold;color:#444;justify-content:flex-start">实践课程</div>
<div class="t" style="left:1840px;top:1262.5px;height:16px;font-size:10.5px;letter-spacing:2.9px;line-height:16px;font-weight:bold;color:#444;justify-content:flex-start">集中实践环节</div>
<div class="t" style="left:351px;top:201.5px;height:60px;font-size:42px;letter-spacing:0.8px;line-height:60px;color:#111;font-family:'Liberation Sans',sans-serif;justify-content:flex-start">九、服装设计与工程专业课程拓扑图</div>
<div class="t" style="left:400px;top:328px;width:120px;height:28px;font-size:21.5px;letter-spacing:0.5px;padding-left:0.5px;line-height:28px;font-weight:900;color:#111;-webkit-text-stroke:0.4px #111">第一学年</div>
<div class="t" style="left:762.5px;top:327px;width:120px;height:28px;font-size:21.5px;letter-spacing:0.5px;padding-left:0.5px;line-height:28px;font-weight:900;color:#111;-webkit-text-stroke:0.4px #111">第二学年</div>
<div class="t" style="left:1122px;top:328.3px;width:120px;height:28px;font-size:21.5px;letter-spacing:0.5px;padding-left:0.5px;line-height:28px;font-weight:900;color:#111;-webkit-text-stroke:0.4px #111">第三学年</div>
<div class="t" style="left:1500px;top:328.3px;width:120px;height:28px;font-size:21.5px;letter-spacing:0.5px;padding-left:0.5px;line-height:28px;font-weight:900;color:#111;-webkit-text-stroke:0.4px #111">第四学年</div>
<div class="t" style="left:313px;top:368.5px;width:100px;height:20px;font-size:14.5px;letter-spacing:0.3px;line-height:20px;font-weight:900;color:#111;-webkit-text-stroke:0.5px #111">第一学期</div>
<div class="t" style="left:495.6px;top:368.5px;width:100px;height:20px;font-size:14.5px;letter-spacing:0.3px;line-height:20px;font-weight:900;color:#111;-webkit-text-stroke:0.5px #111">第二学期</div>
<div class="t" style="left:678.8px;top:368.5px;width:100px;height:20px;font-size:14.5px;letter-spacing:0.3px;line-height:20px;font-weight:900;color:#111;-webkit-text-stroke:0.5px #111">第三学期</div>
<div class="t" style="left:861.8px;top:368.5px;width:100px;height:20px;font-size:14.5px;letter-spacing:0.3px;line-height:20px;font-weight:900;color:#111;-webkit-text-stroke:0.5px #111">第四学期</div>
<div class="t" style="left:1045px;top:368.5px;width:100px;height:20px;font-size:14.5px;letter-spacing:0.3px;line-height:20px;font-weight:900;color:#111;-webkit-text-stroke:0.5px #111">第五学期</div>
<div class="t" style="left:1228px;top:368.5px;width:100px;height:20px;font-size:14.5px;letter-spacing:0.3px;line-height:20px;font-weight:900;color:#111;-webkit-text-stroke:0.5px #111">第六学期</div>
<div class="t" style="left:1411.5px;top:368.5px;width:100px;height:20px;font-size:14.5px;letter-spacing:0.3px;line-height:20px;font-weight:900;color:#111;-webkit-text-stroke:0.5px #111">第七学期</div>
<div class="t" style="left:1594.5px;top:368.5px;width:100px;height:20px;font-size:14.5px;letter-spacing:0.3px;line-height:20px;font-weight:900;color:#111;-webkit-text-stroke:0.5px #111">第八学期</div>
<div style="position:absolute;left:1788px;top:1402.5px;width:35px;height:1.2px;background:#111"></div>
<div style="position:absolute;left:1929px;top:1402.5px;width:35px;height:1.2px;background:#111"></div>
<div class="t" style="left:1840px;top:1381px;width:84px;height:44px;font-size:38px;line-height:44px;color:#111;font-family:'Liberation Serif',serif">145</div>
</body>
</html>
